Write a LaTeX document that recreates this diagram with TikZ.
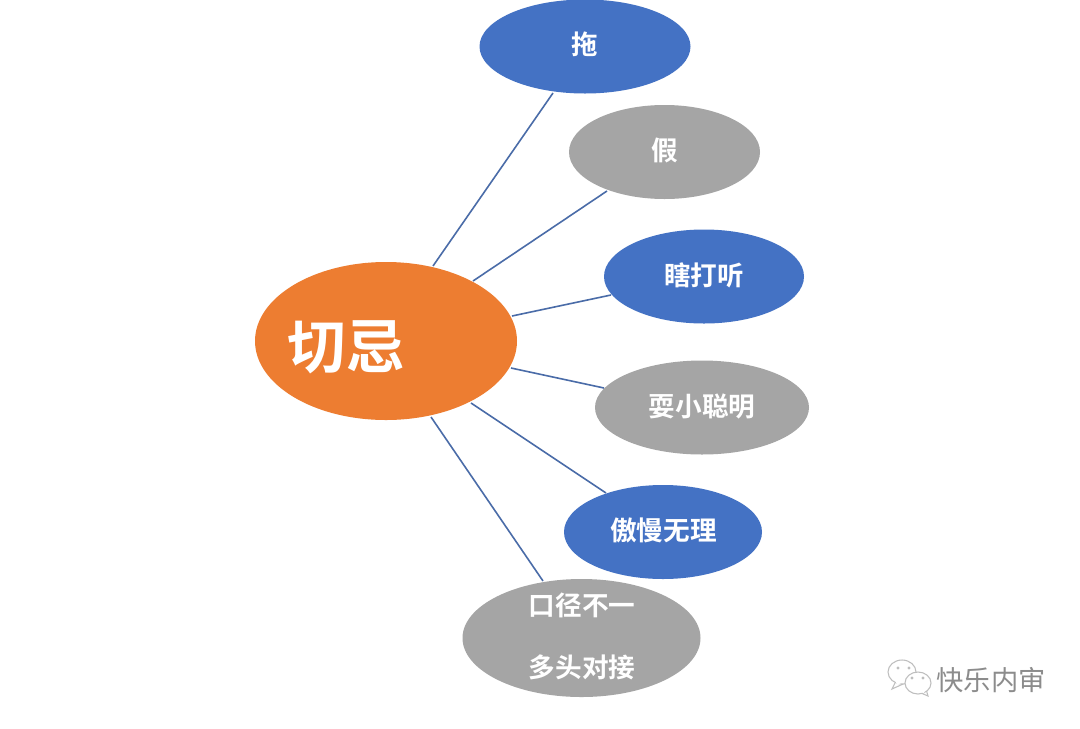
\documentclass[tikz,border=0pt]{standalone}
\usepackage{fontspec}
\newfontfamily\cjk{Noto Sans CJK SC}[BoldFont={Noto Sans CJK SC Bold}]
\usetikzlibrary{shapes.geometric}
\definecolor{bl}{HTML}{4472C4}
\definecolor{gy}{HTML}{A5A5A5}
\definecolor{og}{HTML}{ED7D31}
\definecolor{ln}{HTML}{4A6CA8}
\definecolor{wm}{HTML}{8C8C8C}
\definecolor{wi}{HTML}{BEBEBE}
\tikzset{x=0.0264cm,y=-0.0264cm,
 oval/.style={ellipse,inner sep=0pt,outer sep=0pt,text=white,font=\cjk\bfseries\fontsize{20pt}{24pt}\selectfont,align=center},
 blueoval/.style={oval,fill=bl},
 greyoval/.style={oval,fill=gy},
 ovallabel/.style={text=white,font=\cjk\bfseries\fontsize{20pt}{24pt}\selectfont,inner sep=0pt},
 link/.style={draw=ln,line width=1.2pt},
 bubble/.style={draw=wi,fill=white,line width=0.8pt},
 bubbledot/.style={fill=wi,draw=none}}
\begin{document}
\begin{tikzpicture}
\useasboundingbox[fill=white] (0,0) rectangle (1080,728);
\node[oval,fill=og,minimum width=262*0.0264cm,minimum height=158*0.0264cm] (c) at (386,341) {};
\node[text=white,font=\cjk\bfseries\fontsize{44pt}{50pt}\selectfont,inner sep=0pt] (ct) at (346,347) {切忌};
\node[blueoval,minimum width=211*0.0264cm,minimum height=94*0.0264cm] (a) at (585,46.5) {};
\node[ovallabel] (at) at (585,44.5) {拖};
\node[greyoval,minimum width=191*0.0264cm,minimum height=94*0.0264cm] (b) at (664.5,152) {};
\node[ovallabel] (bt) at (664.5,150.5) {假};
\node[blueoval,minimum width=200*0.0264cm,minimum height=94*0.0264cm] (d) at (704,276.5) {};
\node[ovallabel] (dt) at (704,275) {瞎打听};
\node[greyoval,minimum width=214*0.0264cm,minimum height=94*0.0264cm] (e) at (702,407.5) {};
\node[ovallabel] (et) at (702,406) {耍小聪明};
\node[blueoval,minimum width=198*0.0264cm,minimum height=94*0.0264cm] (f) at (663,532) {};
\node[ovallabel] (ft) at (663.5,530.5) {傲慢无理};
\node[greyoval,minimum width=238*0.0264cm,minimum height=118*0.0264cm] (g) at (581.5,638) {};
\node[ovallabel] (g1) at (582,605) {口径不一};
\node[ovallabel] (g2) at (582,667) {多头对接};
\coordinate (a0) at (433,266); \coordinate (a1) at (553,93);
\coordinate (b0) at (473,281); \coordinate (b1) at (607,191);
\coordinate (d0) at (512,316); \coordinate (d1) at (611,295);
\coordinate (e0) at (511,368); \coordinate (e1) at (604,388);
\coordinate (f0) at (471,403); \coordinate (f1) at (606,493);
\coordinate (g0) at (431,417); \coordinate (g1c) at (543,581);
\draw[link] (a0)--(a1); \draw[link] (b0)--(b1); \draw[link] (d0)--(d1);
\draw[link] (e0)--(e1); \draw[link] (f0)--(f1); \draw[link] (g0)--(g1c);
% watermark icon
\draw[bubble] (892,689) -- (896,681) -- (903,684) -- cycle;
\draw[bubble] (902,672) ellipse[x radius=14,y radius=12];
\draw[draw=none,fill=white] (895,680) -- (903,682) -- (897,685) -- cycle;
\draw[bubble] (928,696) -- (921,693) -- (926,689) -- cycle;
\draw[bubble] (918,683) ellipse[x radius=13,y radius=11];
\draw[draw=none,fill=white] (921,692) -- (926,688) -- (924,693) -- cycle;
\fill[bubbledot] (898,668) circle[radius=1.6];
\fill[bubbledot] (909,668) circle[radius=1.6];
\fill[bubbledot] (912,678) circle[radius=1.6];
\fill[bubbledot] (923,678) circle[radius=1.6];
\node[text=wm,font=\cjk\fontsize{20.5pt}{24pt}\selectfont,inner sep=0pt] (w) at (991,680) {快乐内审};
\end{tikzpicture}
\end{document}
